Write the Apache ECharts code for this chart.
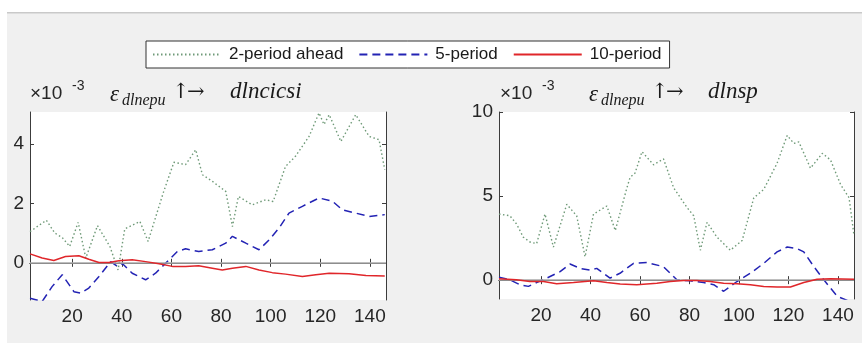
<!DOCTYPE html>
<html>
<head>
<meta charset="utf-8">
<script src="https://cdn.jsdelivr.net/npm/echarts@6/dist/echarts.min.js"></script>
<style>
html, body { margin: 0; padding: 0; background: #fff; }
#chart { width: 862px; height: 343px; }
</style>
</head>
<body>
<div id="chart"></div>
<script>
// values in units of 1e-3, as [period, value]
var seriesNames = ['2-period ahead', '5-period', '10-period'];
var xTicks = [20, 40, 60, 80, 100, 120, 140];
var yTicksLeft = [0, 2, 4];
var yTicksRight = [0, 5, 10];

var cicsi2 = [[3,1.05],[9.6,1.43],[13,1.0],[16,0.85],[19,0.55],[22.4,1.36],[25.5,0.16],[30.2,1.25],[35.2,0.55],[38.5,-0.24],
  [41.2,1.14],[47.3,1.39],[50.6,0.72],[56.7,2.35],[61,3.38],[65.7,3.3],[69.8,3.8],[72.5,2.96],[76.5,2.74],[81.9,2.4],
  [84.6,1.22],[87,2.23],[92.6,1.95],[98,2.12],[101,2.06],[106,3.24],[110,3.58],[115.5,4.25],[119.5,5.04],[121.5,4.65],
  [123.6,4.98],[128.3,4.08],[134.3,4.98],[139.7,4.25],[143.7,4.14],[146,3.13]];
var cicsi5 = [[3,-1.19],[7.9,-1.3],[11.9,-0.8],[16,-0.4],[20.7,-0.97],[23.4,-1.02],[26.7,-0.85],[30.8,-0.46],[35.5,0.04],
  [38.2,-0.12],[40.2,-0.02],[44.2,-0.35],[49.6,-0.57],[53.6,-0.35],[59,0.1],[62.4,0.38],[65.7,0.47],[71,0.38],[76.5,0.44],
  [81.9,0.66],[84.6,0.89],[90,0.66],[95.3,0.44],[99.4,0.77],[103.4,1.17],[107.4,1.67],[112.8,1.9],[119.5,2.18],
  [124.9,2.07],[128.9,1.78],[134.3,1.67],[139.7,1.56],[146,1.62]];
var cicsi10 = [[3,0.3],[7.9,0.16],[12.6,0.08],[17.3,0.21],[22.7,0.24],[26.7,0.12],[30.8,0.01],[34.8,0.01],[38.8,0.07],
  [44.2,0.1],[49.6,0.04],[55,-0.03],[60.4,-0.12],[65.7,-0.12],[71,-0.1],[76.5,-0.18],[80.5,-0.24],[84.6,-0.18],
  [90,-0.12],[95.3,-0.24],[100.7,-0.33],[106,-0.38],[112.8,-0.46],[118.2,-0.4],[123.6,-0.35],[131.6,-0.37],
  [138.4,-0.43],[146,-0.44]];

var sp2 = [[3,3.93],[7.4,3.83],[10.1,3.34],[12.8,2.56],[15.5,2.27],[18.2,2.17],[21.6,3.93],[25,1.97],[30.4,4.51],
  [34.4,3.83],[37.8,1.39],[41.2,3.93],[46.6,4.41],[50,2.95],[54.7,5.49],[56,6.11],[58,6.37],[60.8,7.64],[65.5,6.86],
  [69.5,7.21],[73.6,5.49],[79,4.32],[81.7,3.83],[84.4,1.78],[87.1,3.44],[91.1,2.56],[96.5,1.78],[101.3,2.36],
  [106,4.9],[110,5.39],[115.4,6.95],[119.5,8.61],[122.2,8.13],[124.2,8.22],[128.9,6.66],[133.7,7.54],[137,7.15],
  [141.1,5.68],[144.5,4.9],[146.5,2.66]];
var sp5 = [[3,0.18],[7.4,0.02],[11.5,-0.27],[14.9,-0.37],[18.2,-0.14],[22.3,0.12],[27.7,0.51],[31.7,0.96],[35.8,0.7],
  [39.8,0.6],[42.5,0.7],[47.9,0.12],[51.9,0.41],[57.4,1.0],[62.8,1.05],[69.5,0.8],[74.9,0.02],[80.3,-0.04],
  [85.7,-0.14],[89.8,-0.27],[93.8,-0.66],[99.2,-0.08],[104.6,0.41],[110,1.0],[115.4,1.68],[119.5,1.97],[123.5,1.88],
  [126.2,1.68],[130.3,0.8],[134.3,0.02],[139.7,-0.96],[143.8,-1.2],[147,-1.35]];
var sp10 = [[3,0.08],[10,0.02],[15.5,-0.08],[21,-0.08],[26.3,-0.21],[33.1,-0.14],[41.2,-0.04],[46.6,-0.14],[52,-0.23],
  [58.7,-0.27],[66.8,-0.18],[72.2,-0.08],[77.6,-0.02],[83,-0.02],[88.4,-0.08],[93.8,-0.18],[99.2,-0.21],[104.6,-0.27],
  [110,-0.37],[115.4,-0.41],[120.8,-0.41],[126.2,-0.14],[131.6,0.06],[137,0.08],[146.5,0.06]];

var colors = ['#6f9a78', '#2323b4', '#e0262a'];
var lineTypes = [[1.5, 2.5], [8, 5], 'solid'];
var frame = '#3c3c3c';
var labelFont = 'Liberation Sans';

var chart = echarts.init(document.getElementById('chart'));

function xAx(grid, top) {
  return {
    type: 'value', gridIndex: grid, position: top ? 'top' : 'bottom',
    min: 3, max: 146.5,
    axisLine: { show: true, lineStyle: { color: frame, width: 1 } },
    axisTick: { show: true, inside: true, length: 4, customValues: xTicks, lineStyle: { color: frame } },
    axisLabel: { show: !top, customValues: xTicks, margin: 7, fontSize: 19, fontFamily: labelFont, color: '#262626' },
    splitLine: { show: false }
  };
}
function yAx(grid, right, lo, hi, ticks) {
  return {
    type: 'value', gridIndex: grid, position: right ? 'right' : 'left',
    min: lo, max: hi,
    axisLine: { show: true, lineStyle: { color: frame, width: 1 } },
    axisTick: { show: true, inside: true, length: 4, customValues: ticks, lineStyle: { color: frame } },
    axisLabel: { show: !right, customValues: ticks, margin: 6, fontSize: 19, fontFamily: labelFont, color: '#262626' },
    splitLine: { show: false }
  };
}
function mk(name, i, data, axisIdx, zero) {
  var s = {
    name: name, type: 'line', data: data, xAxisIndex: axisIdx, yAxisIndex: axisIdx,
    symbol: 'none', smooth: false, clip: true,
    lineStyle: { color: colors[i], width: i === 0 ? 1.4 : 1.5, type: lineTypes[i] },
    itemStyle: { color: colors[i] },
    z: 3 + i
  };
  if (zero) {
    s.markLine = { silent: true, symbol: 'none', label: { show: false },
      lineStyle: { color: '#a8a8a8', width: 1.5, type: 'solid' }, data: [{ yAxis: 0 }] };
  }
  return s;
}

function mathTitle(x0, target, targetX) {
  var serif = 'italic 23px "Liberation Serif"';
  return [
    { type: 'text', left: x0, top: 83, style: { text: 'ε', font: serif, fill: '#1a1a1a' } },
    { type: 'text', left: x0 + 12, top: 93, style: { text: 'dlnepu', font: 'italic 16px "Liberation Serif"', fill: '#1a1a1a' } },
    { type: 'text', left: x0 + 62, top: 82, style: { text: '↑', font: '21px "DejaVu Serif"', fill: '#1a1a1a' } },
    { type: 'text', left: x0 + 77, top: 82, style: { text: '→', font: '21px "DejaVu Serif"', fill: '#1a1a1a' } },
    { type: 'text', left: targetX, top: 80, style: { text: target, font: serif, fill: '#1a1a1a' } }
  ];
}
function expLabel(x0) {
  return [
    { type: 'text', left: x0, top: 84, style: { text: '×10', font: '19px "Liberation Sans"', fill: '#262626' } },
    { type: 'text', left: x0 + 42, top: 79, style: { text: '-3', font: '14px "Liberation Sans"', fill: '#262626' } }
  ];
}

var graphics = [
  { type: 'rect', left: 7, top: 12, shape: { width: 855, height: 331 }, style: { fill: '#f0f0f0' }, z: -10 },
  { type: 'rect', left: 7, top: 12, shape: { width: 855, height: 1.5 }, style: { fill: '#c9c9c9' }, z: -9 }
].concat(expLabel(30), mathTitle(110, 'dlncicsi', 230), expLabel(500), mathTitle(589, 'dlnsp', 708));

var option = {
  backgroundColor: '#ffffff',
  animation: false,
  graphic: graphics,
  legend: {
    data: seriesNames,
    left: 146, top: 41,
    orient: 'horizontal',
    itemWidth: 68, itemHeight: 12, itemGap: 15,
    padding: [5, 8, 5, 6],
    backgroundColor: '#ffffff', borderColor: '#333', borderWidth: 1, borderRadius: 0,
    itemStyle: { opacity: 0 },
    textStyle: { fontSize: 17, fontFamily: labelFont, color: '#1a1a1a', padding: [0, 0, 0, 3] }
  },
  grid: [
    { left: 30, top: 112, width: 356, height: 188, show: true, backgroundColor: '#fff', borderWidth: 0 },
    { left: 499, top: 112, width: 355, height: 187, show: true, backgroundColor: '#fff', borderWidth: 0 }
  ],
  xAxis: [xAx(0, false), xAx(1, false), xAx(0, true), xAx(1, true)],
  yAxis: [yAx(0, false, -1.25, 5.07, yTicksLeft), yAx(1, false, -1.12, 10, yTicksRight),
          yAx(0, true, -1.25, 5.07, yTicksLeft), yAx(1, true, -1.12, 10, yTicksRight)],
  series: [
    mk(seriesNames[0], 0, cicsi2, 0, true),
    mk(seriesNames[1], 1, cicsi5, 0, false),
    mk(seriesNames[2], 2, cicsi10, 0, false),
    mk(seriesNames[0], 0, sp2, 1, true),
    mk(seriesNames[1], 1, sp5, 1, false),
    mk(seriesNames[2], 2, sp10, 1, false)
  ]
};
chart.setOption(option);
</script>
</body>
</html>
